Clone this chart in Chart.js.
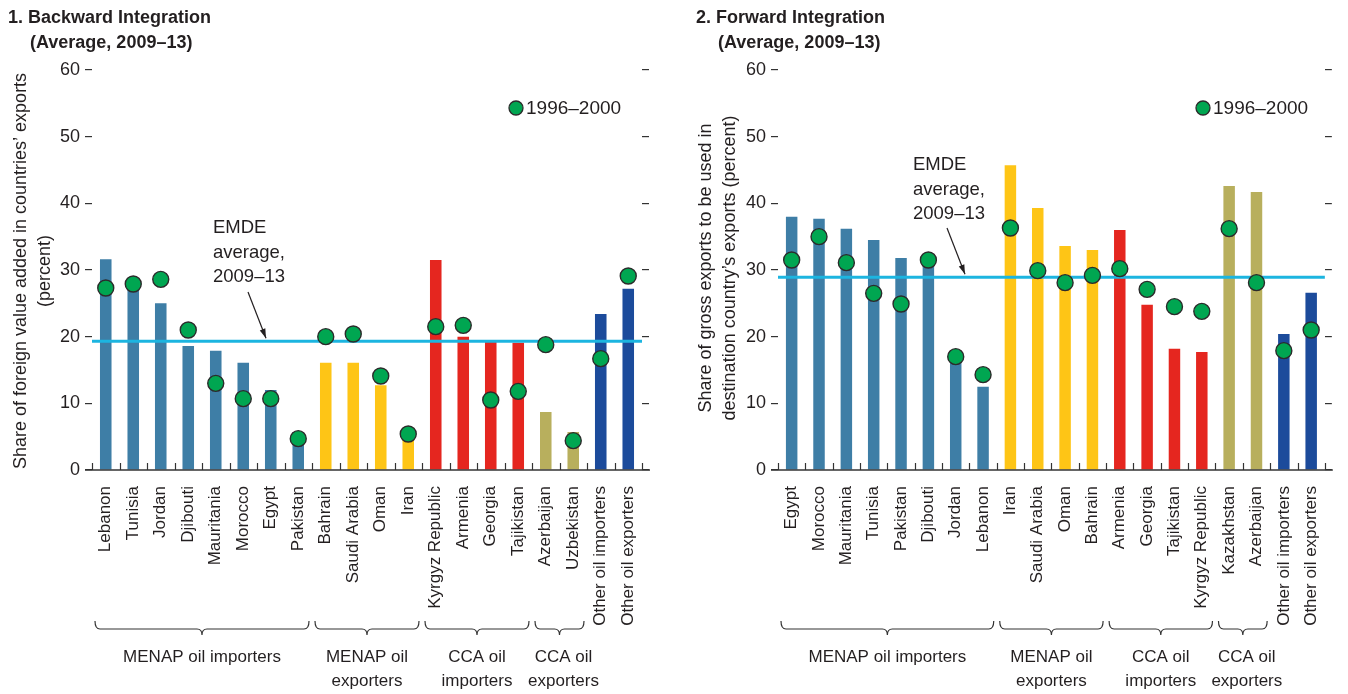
<!DOCTYPE html>
<html>
<head>
<meta charset="utf-8">
<script src="https://cdn.jsdelivr.net/npm/chart.js@4.4.1/dist/chart.umd.min.js"></script>
<style>
    html, body { margin: 0; padding: 0; background: #fff; }
    #wrap { position: relative; width: 1348px; height: 694px; overflow: hidden; }
    canvas { position: absolute; top: 0; }
    #backward { left: 0; }
    #forward { left: 674px; }
</style>
</head>
<body>
<div id="wrap">
    <canvas id="backward" width="674" height="694"></canvas>
    <canvas id="forward" width="674" height="694"></canvas>
</div>
<script>
const FONT = '"Liberation Sans", Arial, sans-serif';
const TEXT = '#231f20';

// Panel 1: backward integration
const backwardCountries = ['Lebanon', 'Tunisia', 'Jordan', 'Djibouti', 'Mauritania', 'Morocco', 'Egypt', 'Pakistan',
    'Bahrain', 'Saudi Arabia', 'Oman', 'Iran',
    'Kyrgyz Republic', 'Armenia', 'Georgia', 'Tajikistan',
    'Azerbaijan', 'Uzbekistan',
    'Other oil importers', 'Other oil exporters'];
const backward0913 = [31.6, 28.3, 25.0, 18.6, 17.9, 16.1, 12.0, 5.7, 16.1, 16.1, 12.7, 4.5, 31.5, 20.0, 19.5, 19.1, 8.7, 5.7, 23.4, 27.2];
const backward9600 = [27.3, 27.9, 28.6, 21.0, 13.0, 10.7, 10.7, 4.7, 20.0, 20.4, 14.1, 5.4, 21.5, 21.7, 10.5, 11.8, 18.8, 4.4, 16.7, 29.1];
const backwardEmde = 19.3;

// Panel 2: forward integration
const forwardCountries = ['Egypt', 'Morocco', 'Mauritania', 'Tunisia', 'Pakistan', 'Djibouti', 'Jordan', 'Lebanon',
    'Iran', 'Saudi Arabia', 'Oman', 'Bahrain',
    'Armenia', 'Georgia', 'Tajikistan', 'Kyrgyz Republic',
    'Kazakhstan', 'Azerbaijan',
    'Other oil importers', 'Other oil exporters'];
const forward0913 = [38.0, 37.7, 36.2, 34.5, 31.8, 31.0, 16.5, 12.5, 45.7, 39.3, 33.6, 33.0, 36.0, 24.8, 18.2, 17.7, 42.6, 41.7, 20.4, 26.6];
const forward9600 = [31.5, 35.0, 31.1, 26.5, 24.9, 31.5, 17.0, 14.3, 36.3, 29.9, 28.1, 29.2, 30.2, 27.1, 24.5, 23.8, 36.2, 28.1, 17.9, 21.0];
const forwardEmde = 28.9;

// shared
const groupSizes = [8, 4, 4, 2, 2];
const groupLabels = [['MENAP oil importers'], ['MENAP oil', 'exporters'], ['CCA oil', 'importers'], ['CCA oil', 'exporters'], null];
const groupColors = ['#3e7ea6', '#fec516', '#e5261f', '#b8af5d', '#1c4b9b'];
const yMin = 0, yMax = 60, yStep = 10;

const decor = {
    id: 'decor',
    afterDatasetDraw(chart, args, opts) {
        if (args.index !== 1) return;
        // EMDE average line sits above the bars, below the dots
        const { ctx, chartArea: a, scales: { y } } = chart;
        const py = y.getPixelForValue(opts.emde);
        ctx.save();
        ctx.strokeStyle = '#1cb5e0';
        ctx.lineWidth = 3;
        ctx.beginPath();
        ctx.moveTo(a.left, py);
        ctx.lineTo(a.right, py);
        ctx.stroke();
        ctx.restore();
    },
    afterDraw(chart, args, opts) {
        const { ctx, chartArea: a, scales: { x, y } } = chart;
        const n = chart.data.labels.length;
        const edge = i => x.getPixelForValue(i - 0.5);
        ctx.save();

        // x axis line and category ticks
        ctx.strokeStyle = '#333';
        ctx.lineWidth = 1.5;
        ctx.beginPath();
        ctx.moveTo(a.left - 7, a.bottom);
        ctx.lineTo(a.right + 8, a.bottom);
        ctx.stroke();
        ctx.lineWidth = 1.2;
        for (let i = 0; i <= n; i++) {
            const px = Math.round(edge(i)) + 0.5;
            ctx.beginPath();
            ctx.moveTo(px, a.bottom);
            ctx.lineTo(px, a.bottom - 7);
            ctx.stroke();
        }

        // group braces and labels
        ctx.fillStyle = TEXT;
        ctx.font = '17px ' + FONT;
        ctx.textAlign = 'center';
        ctx.textBaseline = 'middle';
        let start = 0;
        groupSizes.forEach((size, g) => {
            const lbl = groupLabels[g];
            if (lbl) {
                const x1 = edge(start) + 3, x2 = edge(start + size) - 3, cx = (x1 + x2) / 2;
                const top = 621, mid = 629, tip = 635, r = 5;
                ctx.strokeStyle = '#333';
                ctx.lineWidth = 1.2;
                ctx.beginPath();
                ctx.moveTo(x1, top);
                ctx.quadraticCurveTo(x1, mid, x1 + r, mid);
                ctx.lineTo(cx - r, mid);
                ctx.quadraticCurveTo(cx, mid, cx, tip);
                ctx.quadraticCurveTo(cx, mid, cx + r, mid);
                ctx.lineTo(x2 - r, mid);
                ctx.quadraticCurveTo(x2, mid, x2, top);
                ctx.stroke();
                lbl.forEach((t, k) => ctx.fillText(t, cx + (opts.shift[g] || 0), 657 + k * 24));
            }
            start += size;
        });

        // panel title
        ctx.textAlign = 'left';
        ctx.font = 'bold 18px ' + FONT;
        ctx.fillText(opts.title[0], opts.titleX[0], 18);
        ctx.fillText(opts.title[1], opts.titleX[1], 43);

        // y axis title
        ctx.font = '18px ' + FONT;
        ctx.textAlign = 'center';
        opts.yTitle.forEach((t, k) => {
            ctx.save();
            ctx.translate(opts.yTitleX[k], opts.yTitleY);
            ctx.rotate(-Math.PI / 2);
            ctx.fillText(t, 0, 0);
            ctx.restore();
        });

        // legend
        ctx.beginPath();
        ctx.arc(opts.legend[0], opts.legend[1], 7, 0, Math.PI * 2);
        ctx.fillStyle = '#00a651';
        ctx.fill();
        ctx.strokeStyle = '#2b2b2b';
        ctx.lineWidth = 1.3;
        ctx.stroke();
        ctx.fillStyle = TEXT;
        ctx.textAlign = 'left';
        ctx.font = '19px ' + FONT;
        ctx.fillText('1996\u20132000', opts.legend[0] + 10, opts.legend[1] + 1);

        // EMDE note with arrow
        const note = opts.note;
        ctx.font = '18.5px ' + FONT;
        ['EMDE', 'average,', '2009\u201313'].forEach((t, k) => ctx.fillText(t, note.x, note.y + k * 24.5));
        const tipY = y.getPixelForValue(opts.emde) - 3;
        const ax0 = note.ax, ay0 = note.ay, ax1 = note.tx;
        ctx.strokeStyle = '#231f20';
        ctx.lineWidth = 1.2;
        ctx.beginPath();
        ctx.moveTo(ax0, ay0);
        ctx.lineTo(ax1, tipY);
        ctx.stroke();
        const ang = Math.atan2(tipY - ay0, ax1 - ax0);
        ctx.beginPath();
        ctx.moveTo(ax1, tipY);
        ctx.lineTo(ax1 - 10 * Math.cos(ang - 0.3), tipY - 10 * Math.sin(ang - 0.3));
        ctx.lineTo(ax1 - 10 * Math.cos(ang + 0.3), tipY - 10 * Math.sin(ang + 0.3));
        ctx.closePath();
        ctx.fillStyle = '#231f20';
        ctx.fill();

        ctx.restore();
    }
};

function makePanel(id, labels, bars, dots, emde, extra) {
    const colors = [];
    groupSizes.forEach((size, g) => { for (let i = 0; i < size; i++) colors.push(groupColors[g]); });

    return new Chart(document.getElementById(id), {
        data: {
            labels: labels,
            datasets: [
                {
                    type: 'line',
                    label: '1996\u20132000',
                    data: dots,
                    showLine: false,
                    pointRadius: 8,
                    pointHoverRadius: 8,
                    pointBackgroundColor: '#00a651',
                    pointBorderColor: '#2b2b2b',
                    pointBorderWidth: 1.4,
                    order: 0
                },
                {
                    type: 'bar',
                    label: 'Average, 2009\u201313',
                    data: bars,
                    backgroundColor: colors,
                    barPercentage: 0.42,
                    categoryPercentage: 1,
                    order: 1
                }
            ]
        },
        options: {
            responsive: false,
            animation: false,
            devicePixelRatio: 1,
            layout: { padding: { top: 70, left: 0, right: 674 - extra.right - 7, bottom: 0 } },
            plugins: {
                legend: { display: false },
                tooltip: { enabled: false },
                decor: Object.assign({ emde: emde }, extra)
            },
            scales: {
                x: {
                    type: 'category',
                    offset: true,
                    grid: { display: false, drawTicks: false },
                    border: { display: false },
                    ticks: {
                        autoSkip: false,
                        maxRotation: 90,
                        minRotation: 90,
                        padding: 16,
                        color: TEXT,
                        font: { family: FONT, size: 17 }
                    },
                    afterFit: s => { s.height = 224; }
                },
                y: {
                    min: yMin,
                    max: yMax,
                    position: 'left',
                    border: { display: false },
                    grid: { drawOnChartArea: false, tickLength: 7, color: '#333', lineWidth: 1.2 },
                    ticks: { stepSize: yStep, padding: 5, color: TEXT, font: { family: FONT, size: 18 } },
                    afterFit: s => { s.width = extra.left; }
                },
                y2: {
                    min: yMin,
                    max: yMax,
                    position: 'right',
                    border: { display: false },
                    grid: { drawOnChartArea: false, tickLength: 7, color: '#333', lineWidth: 1.2 },
                    ticks: { stepSize: yStep, display: false },
                    afterFit: s => { s.width = 7; }
                }
            }
        },
        plugins: [decor]
    });
}

makePanel('backward', backwardCountries, backward0913, backward9600, backwardEmde, {
    left: 92, right: 642,
    title: ['1. Backward Integration', '(Average, 2009\u201313)'], titleX: [8, 30],
    yTitle: ['Share of foreign value added in countries\u2019 exports', '(percent)'], yTitleX: [21, 45], yTitleY: 271,
    legend: [516, 108],
    shift: [0, 0, 0, 4],
    note: { x: 213, y: 228, ax: 248, ay: 292, tx: 266 }
});

makePanel('forward', forwardCountries, forward0913, forward9600, forwardEmde, {
    left: 104, right: 657,
    title: ['2. Forward Integration', '(Average, 2009\u201313)'], titleX: [22, 44],
    yTitle: ['Share of gross exports to be used in', 'destination country\u2019s exports (percent)'], yTitleX: [32, 56], yTitleY: 268,
    legend: [529, 108],
    shift: [0, 0, 0, 4],
    note: { x: 239, y: 165, ax: 273, ay: 228, tx: 291 }
});
</script>
</body>
</html>
